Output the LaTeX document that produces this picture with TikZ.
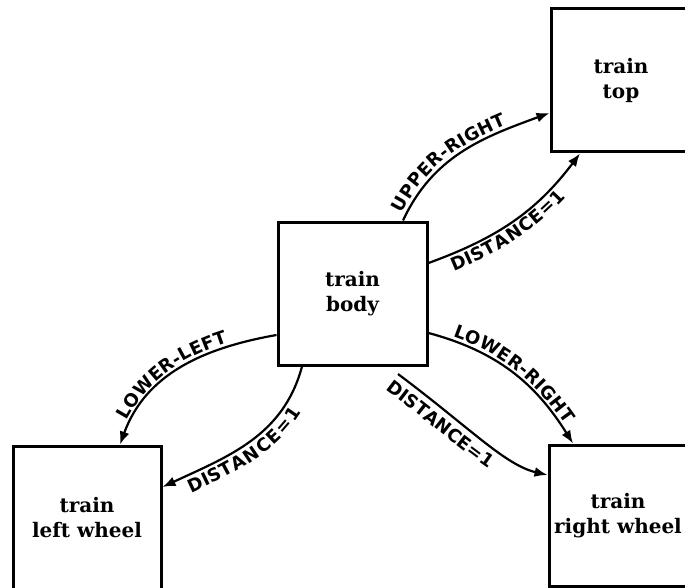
\documentclass[tikz,border=0pt]{standalone}
\usepackage{fontspec}
\newfontfamily\boxfont{DejaVu Serif}
\newfontfamily\handfont{DejaVu Sans}
\newcommand\handsel{\handfont\bfseries\fontsize{18}{18}\selectfont}
\usetikzlibrary{arrows.meta,decorations.text}

\begin{document}
\begin{tikzpicture}[x=1pt,y=1pt,
  part/.style={draw, line width=3pt, rectangle, inner sep=0pt,
    minimum width=148pt, minimum height=143pt, align=center,
    font=\boxfont\bfseries\fontsize{20}{25}\selectfont},
  rel/.style={line width=2.2pt, -{Latex[length=13pt,width=10pt]}},
  tag/.style n args={3}{postaction={decorate, decoration={text along path,
    raise=#2, text align={left, left indent=#3}, text={|\handsel|#1}}}},
  rtag/.style n args={3}{postaction={decorate, decoration={text along path,
    reverse path=true, raise=#2, text align={left, left indent=#3},
    text={|\handsel|#1}}}},
]
\useasboundingbox (0,0) rectangle (685,-588);

% the four parts of the train
\node[part, minimum width=149pt] (body) at (352.5,-293.5) {train\\body};
\node[part, minimum width=140pt] (top) at (621,-80.5) {train\\top};
\node[part] (left) at (87,-517.5) {train\\left wheel};
\node[part, minimum width=138pt, minimum height=141pt] (right)
  at (618,-515.5) {train\\right wheel};

% relations between the parts
\draw[rel, tag={UPPER-RIGHT}{4pt}{6pt}]
  (body.north -| 403,0) to[out=65,in=200] (top.west |- 0,-113);
\draw[rel, tag={DISTANCE=1}{-17pt}{20pt}]
  (body.east |- 0,-263) to[out=20,in=233] (top.south -| 580,0);
\draw[rel, rtag={LOWER-LEFT}{4pt}{24pt}]
  (body.west |- 0,-335) to[out=190,in=70] (left.north -| 120,0);
\draw[rel, rtag={DISTANCE=1}{-18pt}{24pt}]
  (body.south -| 302,0) to[out=255,in=25] (left.east |- 0,-487);
\draw[rel, tag={LOWER-RIGHT}{4pt}{24pt}]
  (body.east |- 0,-333) to[out=-15,in=122] (right.north -| 573,0);
\coordinate (gap) at (398,-374);
\draw[rel, tag={DISTANCE=1}{-20pt}{0pt}]
  (gap) .. controls (470,-428) and (505,-465) .. (right.west |- 0,-475);
\end{tikzpicture}
\end{document}
